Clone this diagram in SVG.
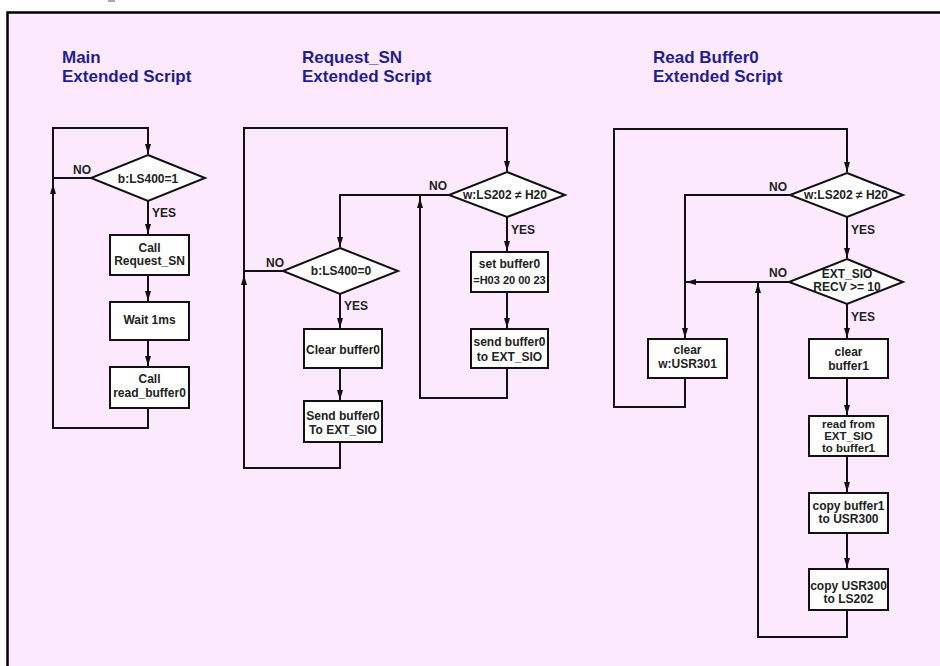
<svg xmlns="http://www.w3.org/2000/svg" width="940" height="666" viewBox="0 0 940 666">
<style>
.title{font-family:"Liberation Sans",Arial,sans-serif;font-weight:bold;font-size:17px;fill:#1e1e96}
.t{font-family:"Liberation Sans",Arial,sans-serif;font-weight:bold;font-size:12px;fill:#222;text-anchor:middle}
.s{font-size:11.5px}
.xs{font-size:11px}
.lbl{font-family:"Liberation Sans",Arial,sans-serif;font-weight:bold;font-size:12px;fill:#222}
.box{fill:#fff;stroke:#111;stroke-width:2}
.conn path{fill:none;stroke:#111;stroke-width:2}
.arr{marker-end:url(#ah)}
</style>
<defs>
<marker id="ah" viewBox="0 0 10 6" refX="10" refY="3" markerWidth="10" markerHeight="6" markerUnits="userSpaceOnUse" orient="auto">
<path d="M0,0 L10,3 L0,6 z" fill="#111"/>
</marker>
</defs>
<rect x="0" y="0" width="940" height="666" fill="#fff"/>
<rect x="108" y="0" width="7" height="2" fill="#aaa"/>
<rect x="7.5" y="12.5" width="945" height="670" fill="#fde9fd" stroke="#000" stroke-width="2.5"/>

<g id="titles">
<text class="title" x="62" y="63">Main</text>
<text class="title" x="62" y="82">Extended Script</text>
<text class="title" x="302" y="63">Request_SN</text>
<text class="title" x="302" y="82">Extended Script</text>
<text class="title" x="653" y="63">Read Buffer0</text>
<text class="title" x="653" y="82">Extended Script</text>
</g>

<g class="conn" id="connectors">
<!-- Main -->
<path d="M148,408 V428 H53 V128 H148 V154" class="arr"/>
<path d="M53,196 V184" class="arr"/>
<path d="M91,178 H53"/>
<path d="M148,201 V234" class="arr"/>
<path d="M148,275 V301" class="arr"/>
<path d="M148,340 V366" class="arr"/>
<!-- Request_SN -->
<path d="M340,442 V468 H244 V128 H507 V171" class="arr"/>
<path d="M244,287 V275" class="arr"/>
<path d="M283,271 H244"/>
<path d="M449,195 H340 V247" class="arr"/>
<path d="M340,294 V328" class="arr"/>
<path d="M340,368 V400" class="arr"/>
<path d="M507,217 V251" class="arr"/>
<path d="M507,292 V328" class="arr"/>
<path d="M507,368 V398 H420 V195"/>
<path d="M420,210 V198" class="arr"/>
<!-- Read Buffer0 -->
<path d="M685,378 V407 H614 V129 H847 V172" class="arr"/>
<path d="M790,195 H685 V338" class="arr"/>
<path d="M847,217 V258" class="arr"/>
<path d="M789,282 H686" class="arr"/>
<path d="M847,304 V338" class="arr"/>
<path d="M847,378 V415" class="arr"/>
<path d="M847,456 V492" class="arr"/>
<path d="M847,533 V568" class="arr"/>
<path d="M847,610 V637 H758 V282"/>
<path d="M758,295 V283" class="arr"/>
</g>

<g id="labels">
<text class="lbl" x="73" y="174">NO</text>
<text class="lbl" x="152" y="217">YES</text>
<text class="lbl" x="429" y="190">NO</text>
<text class="lbl" x="511" y="234">YES</text>
<text class="lbl" x="266" y="267">NO</text>
<text class="lbl" x="344" y="310">YES</text>
<text class="lbl" x="769" y="191">NO</text>
<text class="lbl" x="851" y="234">YES</text>
<text class="lbl" x="769" y="277">NO</text>
<text class="lbl" x="851" y="321">YES</text>
</g>

<!-- Main nodes -->
<g id="m_dec">
<polygon class="box" points="148,155 205,178 148,201 91,178"/>
<text class="t" x="148" y="183">b:LS400=1</text>
</g>
<g id="m_call_req">
<rect class="box" x="110" y="235" width="79" height="40"/>
<text class="t" x="149.5" y="252">Call</text>
<text class="t" x="149.5" y="265">Request_SN</text>
</g>
<g id="m_wait">
<rect class="box" x="110" y="302" width="79" height="38"/>
<text class="t" x="149.5" y="324">Wait 1ms</text>
</g>
<g id="m_call_read">
<rect class="box" x="110" y="367" width="79" height="41"/>
<text class="t" x="149.5" y="383">Call</text>
<text class="t" x="149.5" y="397">read_buffer0</text>
</g>

<!-- Request_SN nodes -->
<g id="r_dec1">
<polygon class="box" points="507,172 565,195 507,217 449,195"/>
<text class="t" x="505" y="199">w:LS202 ≠ H20</text>
</g>
<g id="r_dec2">
<polygon class="box" points="340,248 398,271 340,294 283,271"/>
<text class="t" x="341" y="275">b:LS400=0</text>
</g>
<g id="r_clear">
<rect class="box" x="304" y="329" width="78" height="39"/>
<text class="t" x="343" y="354">Clear buffer0</text>
</g>
<g id="r_send1">
<rect class="box" x="304" y="401" width="78" height="41"/>
<text class="t" x="343" y="420">Send buffer0</text>
<text class="t" x="343" y="434">To EXT_SIO</text>
</g>
<g id="r_set">
<rect class="box" x="471" y="252" width="77" height="40"/>
<text class="t" x="509.5" y="268">set buffer0</text>
<text class="t xs" x="509.5" y="284">=H03 20 00 23</text>
</g>
<g id="r_send2">
<rect class="box" x="471" y="329" width="77" height="39"/>
<text class="t" x="509.5" y="346">send buffer0</text>
<text class="t" x="509.5" y="361">to EXT_SIO</text>
</g>

<!-- Read Buffer0 nodes -->
<g id="b_dec1">
<polygon class="box" points="847,173 903,195 847,217 790,195"/>
<text class="t" x="846" y="199">w:LS202 ≠ H20</text>
</g>
<g id="b_dec2">
<polygon class="box" points="847,259 903,282 847,304 789,282"/>
<text class="t" x="847" y="278">EXT_SIO</text>
<text class="t" x="847" y="291">RECV &gt;= 10</text>
</g>
<g id="b_clear_usr">
<rect class="box" x="648" y="339" width="79" height="39"/>
<text class="t" x="687.5" y="354">clear</text>
<text class="t" x="687.5" y="368">w:USR301</text>
</g>
<g id="b_clear_buf">
<rect class="box" x="809" y="339" width="79" height="39"/>
<text class="t" x="848.5" y="356">clear</text>
<text class="t" x="848.5" y="370">buffer1</text>
</g>
<g id="b_read">
<rect class="box" x="809" y="416" width="79" height="40"/>
<text class="t s" x="848.5" y="428">read from</text>
<text class="t s" x="848.5" y="440">EXT_SIO</text>
<text class="t s" x="848.5" y="452">to buffer1</text>
</g>
<g id="b_copy1">
<rect class="box" x="809" y="493" width="79" height="40"/>
<text class="t" x="848.5" y="510">copy buffer1</text>
<text class="t" x="848.5" y="523">to USR300</text>
</g>
<g id="b_copy2">
<rect class="box" x="809" y="569" width="79" height="41"/>
<text class="t" x="848.5" y="590">copy USR300</text>
<text class="t" x="848.5" y="603">to LS202</text>
</g>
</svg>
